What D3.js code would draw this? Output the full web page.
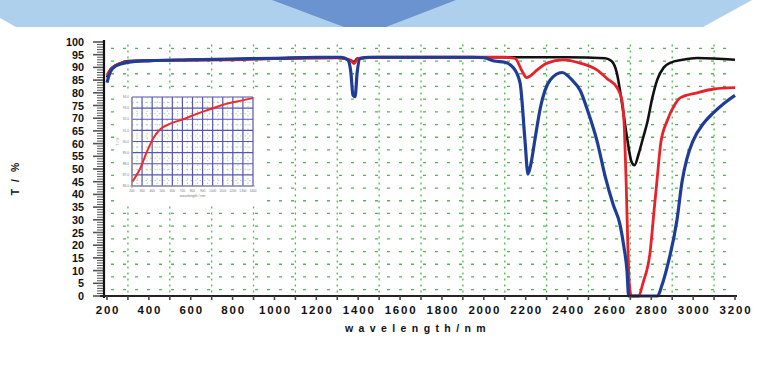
<!DOCTYPE html>
<html><head><meta charset="utf-8">
<script src="https://cdn.jsdelivr.net/npm/d3@7"></script>
<style>html,body{margin:0;padding:0;background:#fff;}svg{display:block;}</style>
</head><body>
<script>
// ---- data ----
const xTicks = [200,400,600,800,1000,1200,1400,1600,1800,2000,2200,2400,2600,2800,3000,3200];
const yTicks = [0,5,10,15,20,25,30,35,40,45,50,55,60,65,70,75,80,85,90,95,100];

const blackWl = [200,220,260,300,600,1000,1300,1370,1380,1395,1500,2000,2400,2580,2610,2635,2660,2685,2705,2720,2740,2760,2780,2805,2828,2860,2890,2950,3020,3200];
const blackT  = [86,89.5,91.5,92.5,93,93.5,93.8,92.5,92,93.5,94,94,94,93.6,92.5,88,76,62,53,51.5,56,62,68,78,85,90,91.8,93,93.7,93];

const redWl = [200,220,260,300,500,800,1000,1300,1360,1380,1400,1500,1800,2100,2150,2180,2205,2220,2255,2302,2380,2460,2540,2590,2637,2660,2672,2680,2688,2695,2705,2740,2760,2794,2815,2828,2845,2876,2910,2938,3019,3100,3200];
const redT  = [87,89.5,91.5,92.3,92.8,93,93.5,93.8,93,91.5,93.5,94,94,94,93.5,89,86,86.5,89,91.7,93,91.7,89,85.5,82,77,65,45,20,5,0,0,5,17,35,46,60,69,75,78,80,81.5,82];

const blueWl = [200,215,240,300,400,600,800,1000,1200,1320,1350,1365,1375,1385,1395,1410,1450,1700,1950,2000,2050,2100,2140,2173,2197,2211,2225,2245,2270,2317,2374,2422,2460,2500,2541,2580,2618,2651,2670,2684,2692,2830,2850,2876,2923,2947,2970,2999,3050,3095,3150,3200];
const blueT  = [84,88,90.5,92,92.6,93,93.3,93.6,94,94,93,88,79,78.5,88,93.5,94,94,94,93.8,92.5,92,90,84,61,48,52,62,74,85,88,85,81,72,61,47,36,28,19,10,0,0,4,11.5,30,45,54,61,68,72,76,79];

// inset
const insetXTicks = [200,300,400,500,600,700,800,900,1000,1100,1200,1300,1400];
const insetYTicks = [86,87,88,89,90,91,92,93,94];
const insetWl = [205,282,351,411,480,579,707,846,974,1103,1241,1400];
const insetT  = [86.4,87.6,89.15,90.3,91.1,91.6,92.0,92.5,92.9,93.3,93.6,93.9];

// ---- drawing ----
const W = 764, H = 365;
const svg = d3.select("body").append("svg").attr("width", W).attr("height", H);

// banner
svg.append("path").attr("d","M0,0 L752,0 L703,27 L16,27 L0,18 Z").attr("fill","#aed0ec");
svg.append("path").attr("d","M272,0 L456,0 L386,27 L344,27 Z").attr("fill","#6a93cf");

const x = d3.scaleLinear().domain([200,3200]).range([107,735]);
const y = d3.scaleLinear().domain([0,100]).range([296,42]);

// green grid
const grid = svg.append("g");
const vLines = d3.range(300, 3200, 200);
grid.selectAll("line.v").data(vLines).enter().append("line")
  .attr("x1", d=>x(d)).attr("x2", d=>x(d)).attr("y1", y(99)).attr("y2", y(0))
  .attr("stroke","#4db84d").attr("stroke-width",1.3).attr("stroke-dasharray","2,4");
const hLines = d3.range(2.5, 100, 5);
grid.selectAll("line.h").data(hLines).enter().append("line")
  .attr("x1", x(200)+4).attr("x2", x(3200)).attr("y1", d=>y(d)).attr("y2", d=>y(d))
  .attr("stroke","#4db84d").attr("stroke-width",1.3).attr("stroke-dasharray","3,9");

// inset
const inset = svg.append("g");
inset.append("rect").attr("x",114).attr("y",91).attr("width",148).attr("height",112).attr("fill","#fff");
const ix = d3.scaleLinear().domain([200,1400]).range([132,253]);
const iy = d3.scaleLinear().domain([86,94]).range([186,97]);
inset.selectAll("line.ig").data(d3.range(250,1400,100)).enter().append("line")
  .attr("x1",d=>ix(d)).attr("x2",d=>ix(d)).attr("y1",iy(94)).attr("y2",iy(86))
  .attr("stroke","#8fd08f").attr("stroke-width",0.8).attr("stroke-dasharray","1.5,3");
inset.selectAll("line.ih").data(d3.range(86.5,94,1)).enter().append("line")
  .attr("x1",ix(200)).attr("x2",ix(1400)).attr("y1",d=>iy(d)).attr("y2",d=>iy(d))
  .attr("stroke","#8fd08f").attr("stroke-width",0.8).attr("stroke-dasharray","1.5,3");
inset.selectAll("line.ivx").data(insetXTicks).enter().append("line")
  .attr("x1",d=>ix(d)).attr("x2",d=>ix(d)).attr("y1",iy(94)).attr("y2",iy(86))
  .attr("stroke","#5656b0").attr("stroke-width",1.2);
inset.selectAll("line.ihy").data(insetYTicks).enter().append("line")
  .attr("x1",ix(200)).attr("x2",ix(1400)).attr("y1",d=>iy(d)).attr("y2",d=>iy(d))
  .attr("stroke","#5656b0").attr("stroke-width",1.2);
inset.append("line").attr("x1",ix(200)-2).attr("x2",ix(1400)+2).attr("y1",iy(86)).attr("y2",iy(86)).attr("stroke","#999").attr("stroke-width",1.2);
inset.append("line").attr("x1",ix(200)).attr("x2",ix(200)).attr("y1",iy(94)).attr("y2",iy(86)+2).attr("stroke","#999").attr("stroke-width",1);
const tinyFont = "'Liberation Sans', Arial, sans-serif";
inset.selectAll("text.ixt").data(insetXTicks).enter().append("text")
  .attr("x",d=>ix(d)).attr("y",iy(86)+6).attr("text-anchor","middle")
  .attr("font-family",tinyFont).attr("font-size",3.2).attr("fill","#777").text(d=>d);
inset.selectAll("text.iyt").data(insetYTicks).enter().append("text")
  .attr("x",ix(200)-3).attr("y",d=>iy(d)+1.2).attr("text-anchor","end")
  .attr("font-family",tinyFont).attr("font-size",3.2).attr("fill","#777").text(d=>d.toFixed(1));
inset.append("text").attr("x",ix(800)).attr("y",iy(86)+11).attr("text-anchor","middle")
  .attr("font-family",tinyFont).attr("font-size",3.5).attr("fill","#777").text("wavelength / nm");
inset.append("text").attr("transform",`translate(119,${iy(90)}) rotate(-90)`).attr("text-anchor","middle")
  .attr("font-family",tinyFont).attr("font-size",3.5).attr("fill","#777").text("T / %");
inset.append("path").datum(insetWl.map((w,i)=>[w,insetT[i]]))
  .attr("d", d3.line().x(d=>ix(d[0])).y(d=>iy(d[1])).curve(d3.curveMonotoneX))
  .attr("fill","none").attr("stroke","#ee2a2a").attr("stroke-width",2);

// series
const line = d3.line().x(d=>x(d[0])).y(d=>y(d[1])).curve(d3.curveMonotoneX);
const series = [
  {wl: blackWl, t: blackT, color: "#111111", w: 2.6},
  {wl: redWl, t: redT, color: "#e8222a", w: 2.8},
  {wl: blueWl, t: blueT, color: "#1f3d96", w: 3.2}
];
series.forEach(s => {
  svg.append("path").datum(s.wl.map((w,i)=>[w,s.t[i]]))
    .attr("d", line).attr("fill","none").attr("stroke", s.color)
    .attr("stroke-width", s.w).attr("stroke-linejoin","round");
});

// axes
const font = "'Liberation Sans', Arial, sans-serif";
const ax = svg.append("g");
ax.selectAll("line.ymin").data(d3.range(0,101,1)).enter().append("line")
  .attr("x1", d => d%5===0 ? 93 : 97).attr("x2", 104)
  .attr("y1", d=>y(d)).attr("y2", d=>y(d))
  .attr("stroke", "#555").attr("stroke-width", d => d%5===0 ? 1.6 : 1);
ax.append("line").attr("x1",104).attr("x2",104).attr("y1",y(100)-2).attr("y2",y(0)+2)
  .attr("stroke","#111").attr("stroke-width",2.2);
ax.selectAll("text.yl").data(yTicks).enter().append("text")
  .attr("x", 84).attr("y", d=>y(d)+4).attr("text-anchor","end")
  .attr("font-family", font).attr("font-weight",700).attr("font-size",10.8).attr("fill","#111")
  .text(d=>d);
ax.append("line").attr("x1",100).attr("x2",737).attr("y1",296).attr("y2",296)
  .attr("stroke","#222").attr("stroke-width",2);
ax.selectAll("line.xt").data(d3.range(200,3201,100)).enter().append("line")
  .attr("x1",d=>x(d)).attr("x2",d=>x(d)).attr("y1",296).attr("y2",300)
  .attr("stroke","#444").attr("stroke-width",1.6);
ax.selectAll("text.xl").data(xTicks).enter().append("text")
  .attr("x", d=>x(d)+1).attr("y", 314).attr("text-anchor","middle")
  .attr("font-family", font).attr("font-weight",700).attr("font-size",11.5).attr("fill","#111")
  .attr("letter-spacing","1.8px").text(d=>d);
svg.append("text").attr("x",418).attr("y",332).attr("text-anchor","middle")
  .attr("font-family", font).attr("font-weight",700).attr("font-size",10.5).attr("fill","#111")
  .attr("letter-spacing","5.4px").text("wavelength/nm");
svg.append("text").attr("transform","translate(19,178) rotate(-90)").attr("text-anchor","middle")
  .attr("font-family", font).attr("font-weight",700).attr("font-size",10.5).attr("fill","#111")
  .attr("letter-spacing","2px").text("T / %");
</script>
</body></html>
